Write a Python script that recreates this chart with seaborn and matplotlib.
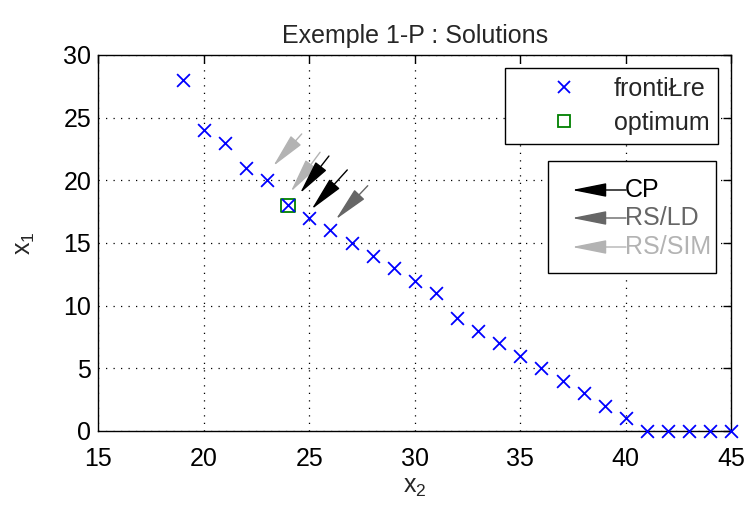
import matplotlib
matplotlib.use("Agg")
import matplotlib.pyplot as plt
import seaborn as sns
import pandas as pd
from matplotlib.lines import Line2D
from matplotlib.patches import Rectangle

# ---- data ----
front_x2 = [19, 20, 21, 22, 23, 24, 25, 26, 27, 28, 29, 30, 31, 32, 33, 34, 35,
            36, 37, 38, 39, 40, 41, 42, 43, 44, 45]
front_x1 = [28, 24, 23, 21, 20, 18, 17, 16, 15, 14, 13, 12, 11, 9, 8, 7, 6,
            5, 4, 3, 2, 1, 0, 0, 0, 0, 0]
opt_x2 = [24]
opt_x1 = [18]

# arrows: (tail x2, tail x1, tip x2, tip x1, method)
arrow_tail_x2 = [24.64, 25.51, 25.93, 26.80, 27.77]
arrow_tail_x1 = [23.70, 22.24, 21.94, 20.83, 19.57]
arrow_tip_x2 = [23.29, 24.12, 24.56, 25.11, 26.26]
arrow_tip_x1 = [21.14, 19.09, 18.97, 17.69, 16.89]
arrow_method = ["RS/SIM", "RS/SIM", "CP", "CP", "RS/LD"]

methods = ["CP", "RS/LD", "RS/SIM"]
method_colors = {"CP": "#000000", "RS/LD": "#666666", "RS/SIM": "#b3b3b3"}

xticks = [15, 20, 25, 30, 35, 40, 45]
yticks = [0, 5, 10, 15, 20, 25, 30]

# ---- style ----
sns.set_theme(style="white")
plt.rcParams['font.family'] = ['Liberation Sans', 'DejaVu Sans']
plt.rcParams['mathtext.fontset'] = 'custom'
plt.rcParams['mathtext.rm'] = 'Liberation Sans'
plt.rcParams['mathtext.it'] = 'Liberation Sans'
FS = 18
ARROW = "-|>,head_length=1.35,head_width=0.27"
MSCALE = 16

fig = plt.figure(figsize=(7.5, 5.09), dpi=100)
ax = fig.add_axes([98.3 / 750, 78 / 509, 633 / 750, 376 / 509])

df_front = pd.DataFrame({"x2": front_x2, "x1": front_x1})
df_opt = pd.DataFrame({"x2": opt_x2, "x1": opt_x1})

sns.scatterplot(data=df_front, x="x2", y="x1", ax=ax, marker="x", color="#0000ff",
                s=85, linewidth=1.3, zorder=3, clip_on=False, legend=False)
sns.scatterplot(data=df_opt, x="x2", y="x1", ax=ax, marker="s", facecolor="none",
                edgecolor="#008000", s=95, linewidth=1.3, zorder=2, legend=False)

for tx, ty, hx, hy, m in zip(arrow_tail_x2, arrow_tail_x1, arrow_tip_x2, arrow_tip_x1, arrow_method):
    ax.annotate("", xy=(hx, hy), xytext=(tx, ty),
                arrowprops=dict(arrowstyle=ARROW, mutation_scale=MSCALE,
                                color=method_colors[m], lw=1.0,
                                shrinkA=0, shrinkB=0), zorder=4)

ax.set_xlim(15, 45)
ax.set_ylim(0, 30)
ax.set_xticks(xticks)
ax.set_yticks(yticks)
ax.tick_params(direction="in", length=6, width=1, top=True, right=True,
               labelsize=FS, colors="black")
ax.tick_params(axis="x", pad=11.5)
ax.tick_params(axis="y", pad=5)
for sp in ax.spines.values():
    sp.set_color("black")
    sp.set_linewidth(1.0)
ax.grid(True, color="black", linestyle=(0, (1, 5)), linewidth=0.9)
ax.set_axisbelow(True)

ax.set_xlabel(r"x$_\mathregular{2}$", fontsize=FS, labelpad=3)
ax.set_ylabel(r"x$_\mathregular{1}$", fontsize=FS, labelpad=19)
ax.set_title("Exemple 1-P : Solutions", fontsize=FS, pad=8.5)

# legend 1
handles = [Line2D([], [], marker="x", color="#0000ff", linestyle="none",
                  markersize=9, markeredgewidth=1.3),
           Line2D([], [], marker="s", markerfacecolor="none", markeredgecolor="#008000",
                  linestyle="none", markersize=9, markeredgewidth=1.3)]
leg = ax.legend(handles, ["frontiŁre", "optimum"], loc="upper right",
                bbox_to_anchor=((718 - 98.3) / 633, (431 - 68) / 376),
                fontsize=FS, frameon=True, fancybox=False, edgecolor="black",
                framealpha=1, borderaxespad=0, handlelength=4.0, handletextpad=0.0,
                labelspacing=0.4, borderpad=0.35)
leg.get_frame().set_linewidth(1.0)

# legend 2 (arrows)
def ax_x(px):
    return (px - 98.3) / 633

def ax_y(py):
    return (431 - py) / 376

rect = Rectangle((ax_x(548), ax_y(273)), ax_x(716) - ax_x(548), ax_y(160.7) - ax_y(273),
                 transform=ax.transAxes, facecolor="white", edgecolor="black",
                 linewidth=1.0, zorder=5)
ax.add_patch(rect)
rows_y = [190, 218, 247]
for m, ry in zip(methods, rows_y):
    col = method_colors[m]
    ax.annotate("", xy=(ax_x(572), ax_y(ry)), xytext=(ax_x(626), ax_y(ry)),
                xycoords=ax.transAxes, textcoords=ax.transAxes,
                arrowprops=dict(arrowstyle=ARROW, mutation_scale=MSCALE,
                                color=col, lw=1.0, shrinkA=0, shrinkB=0), zorder=6)
    ax.text(ax_x(625), ax_y(ry), m, transform=ax.transAxes, color=col, fontsize=FS,
            ha="left", va="center", zorder=6)

fig.savefig("out.png", dpi=100)
